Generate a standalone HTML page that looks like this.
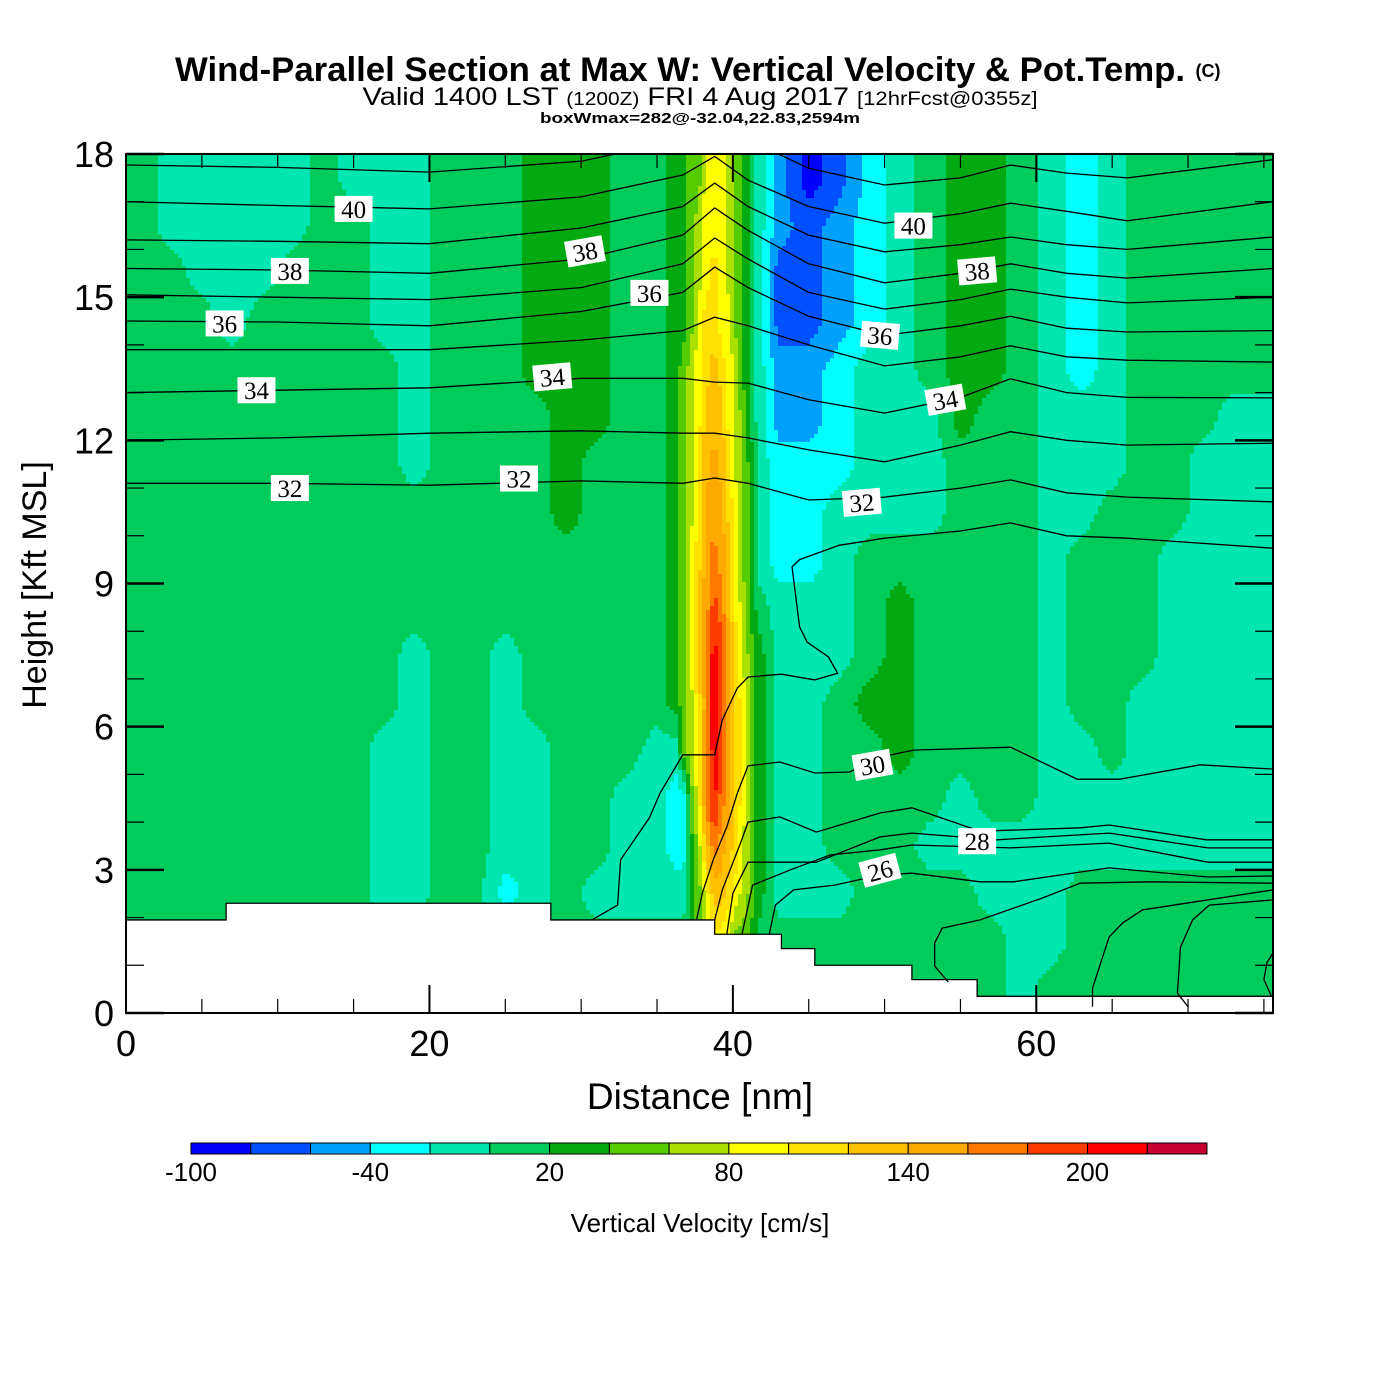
<!DOCTYPE html>
<html><head><meta charset="utf-8"><style>
html,body{margin:0;padding:0;background:#fff;}
svg{display:block;font-family:"Liberation Sans",sans-serif;}
</style></head><body>
<svg id="chart" width="1400" height="1400" viewBox="0 0 1400 1400" xmlns="http://www.w3.org/2000/svg">
<defs><clipPath id="plotclip"><rect x="126" y="154" width="1147" height="859"/></clipPath></defs>
<rect width="1400" height="1400" fill="#fff"/>
<text x="680" y="81" font-size="34" font-weight="bold" text-anchor="middle" textLength="1010" lengthAdjust="spacingAndGlyphs">Wind-Parallel Section at Max W: Vertical Velocity &amp; Pot.Temp.</text>
<text x="1208" y="77" font-size="18" font-weight="bold" text-anchor="middle">(C)</text>
<text x="700" y="105" font-size="25" text-anchor="middle" textLength="675" lengthAdjust="spacingAndGlyphs">Valid 1400 LST <tspan font-size="18">(1200Z)</tspan> FRI 4 Aug 2017 <tspan font-size="19">[12hrFcst@0355z]</tspan></text>
<text x="700" y="123" font-size="15" font-weight="bold" text-anchor="middle" textLength="320" lengthAdjust="spacingAndGlyphs">boxWmax=282@-32.04,22.83,2594m</text>
<g id="cells" clip-path="url(#plotclip)" shape-rendering="crispEdges"></g>
<g id="terrain"></g>
<g id="isen" clip-path="url(#plotclip)"></g>
<g id="labels"></g>
<rect x="126" y="154" width="1147" height="859" fill="none" stroke="#000" stroke-width="2"/>
<g id="axes"></g>
<text x="700" y="1109" font-size="37" text-anchor="middle">Distance [nm]</text>
<text transform="translate(46,585) rotate(-90)" font-size="34" text-anchor="middle">Height [Kft MSL]</text>
<g id="cbar"></g>
<text x="700" y="1232" font-size="26" text-anchor="middle">Vertical Velocity [cm/s]</text>
</svg>
<script>
const colCenters=[1,3,5,7,9,11,13,15,17,19,21,23,25,27,29,31,33,35,36.25,36.75,37.25,37.75,38.25,38.75,39.25,39.75,40.25,40.75,41.25,41.75,43,45,47,49,51,53,55,57,59,61,63,65,67,69,71,73,75];
const rowCenters=[17.5,16.5,15.5,14.5,13.5,12.5,11.5,10.5,9.5,8.5,7.5,6.5,5.5,4.5,3.5,2.5,1.5,0.5];
const w175=[10,-10,-10,-10,-10,-10,10,-10,-10,-10,10,10,10,30,30,30,10,10, 30,30,50,50,90,90,90,70,50,30,10,-10, -50,-90,-70,-30,-10,10,30,30,10,-10,-30,-10,10,10,10,10,10];
const w165=[10,-10,-10,-10,-10,-10,10,10,-10,-10,10,10,10,30,30,30,10,10, 30,30,50,70,90,90,90,70,50,30,10,-10, -50,-70,-50,-30,-10,10,30,30,10,-10,-30,-10,10,10,10,10,10];
const w155=[10,10,-10,-10,-10,10,10,10,-10,-10,10,10,10,30,30,30,10,10, 30,30,50,70,90,110,90,70,50,30,10,-10, -70,-70,-50,-30,-10,10,30,30,10,-10,-30,-10,10,10,10,10,10];
const w145=[10,10,10,-10,10,10,10,10,-10,-10,10,10,10,30,30,30,10,10, 30,30,50,90,110,110,90,90,50,30,10,-10, -70,-70,-50,-30,-10,10,30,30,10,-10,-30,-10,10,10,10,10,10];
const w135=[10,10,10,10,10,10,10,10,10,-10,10,10,10,30,30,30,10,10, 30,50,70,90,110,130,110,90,70,30,10,-10, -50,-50,-30,-10,-10,10,30,30,10,-10,-30,-10,10,10,10,10,10];
const w125=[10,10,10,10,10,10,10,10,10,-10,10,10,10,10,30,30,10,10, 30,50,70,90,130,130,130,90,70,50,10,-10, -50,-50,-30,-10,-10,-10,30,10,10,-10,-10,-10,10,10,10,-10,-10];
const w115=[10,10,10,10,10,10,10,10,10,-10,10,10,10,10,30,10,10,10, 30,50,70,110,130,150,130,110,70,50,30,-10, -30,-30,-30,-10,-10,-10,10,10,10,-10,-10,-10,10,10,-10,-10,-10];
const w105=[10,10,10,10,10,10,10,10,10,10,10,10,10,10,30,10,10,10, 30,50,70,110,150,150,150,110,90,50,30,-10, -30,-30,-10,-10,-10,-10,10,10,10,-10,-10,10,10,10,-10,-10,-10];
const w95=[10,10,10,10,10,10,10,10,10,10,10,10,10,10,10,10,10,10, 30,50,90,110,150,170,150,130,90,50,30,-10, -30,-30,-10,10,10,10,10,10,10,-10,10,10,10,-10,-10,-10,-10];
const w85=[10,10,10,10,10,10,10,10,10,10,10,10,10,10,10,10,10,10, 30,50,90,130,150,190,170,130,90,70,30,10, -10,-10,-10,10,30,10,10,10,10,-10,10,10,10,-10,-10,-10,-10];
const w75=[10,10,10,10,10,10,10,10,10,-10,10,10,-10,10,10,10,10,10, 30,50,90,130,170,210,190,150,110,70,50,30, -10,-10,-10,10,30,10,10,10,10,-10,10,10,10,-10,-10,-10,-10];
const w65=[10,10,10,10,10,10,10,10,10,-10,10,10,-10,10,10,10,10,10, 30,50,70,110,150,230,190,150,110,90,50,30, -10,-10,10,30,30,10,10,10,10,-10,10,10,-10,-10,-10,-10,-10];
const w55=[10,10,10,10,10,10,10,10,-10,-10,10,10,-10,-10,10,10,10,-10, -10,50,70,110,170,210,190,150,110,90,50,30, -10,-10,10,10,30,10,10,10,10,-10,-10,10,-10,-10,-10,-10,-10];
const w45=[10,10,10,10,10,10,10,10,-10,-10,10,10,-10,-10,10,10,-10,-10, -30,-30,50,90,170,210,170,150,110,90,50,30, -10,-10,10,10,10,10,-10,10,10,-10,-10,-10,-10,-10,-10,-10,-10];
const w35=[10,10,10,10,10,10,10,10,-10,-10,10,10,-10,-10,10,10,-10,-10, -30,-30,30,70,130,170,150,130,110,70,50,30, -10,-10,10,10,10,-10,-10,-10,-10,-10,-10,-10,-10,-10,-10,-10,-10];
const w25=[10,10,10,10,10,10,10,10,-10,-10,10,10,-30,-10,10,-10,-10,-10, -10,-10,30,50,90,130,130,110,90,70,50,30, -10,-10,-10,10,10,10,10,-10,-10,-10,10,10,10,10,10,10,10];
const w15=[10,10,10,10,10,10,10,10,10,10,10,10,10,10,10,10,10,10, 10,10,30,50,70,90,90,70,50,50,30,10, 10,10,10,10,10,10,10,10,-10,-10,10,10,10,10,10,10,10];
const w05=[10,10,10,10,10,10,10,10,10,10,10,10,10,10,10,10,10,10, 10,10,10,10,10,10,10,10,10,10,10,10, 10,10,10,10,10,10,10,10,-10,10,10,10,10,10,10,10,10];
const wRows=[w175,w165,w155,w145,w135,w125,w115,w105,w95,w85,w75,w65,w55,w45,w35,w25,w15,w05];
const binColors=['#0000ff','#0050ff','#00a0ff','#00ffff','#00e6b0','#00cc5c','#00aa10','#55cc00','#aae000','#ffff00','#ffe000','#ffc000','#ffa800','#ff7800','#ff3c00','#ff0000','#c80032'];
const cbarTicks=[-100,-40,20,80,140,200];
const terrainX=[0,6.6,28,38.8,43.2,45.4,51.8,56.1,75.6];
const terrainH=[1.95,2.3,1.95,1.65,1.35,1.0,0.7,0.35];
const stX=[0,10,20,30,36.7,38.8,41,45,50,55,58.3,62,66,75.6];
const th41=[17.77,17.72,17.62,17.85,18.3,18.6,18.3,17.7,17.35,17.5,17.77,17.6,17.5,17.88];
const th40=[17.0,16.92,16.85,17.1,17.56,17.95,17.45,16.9,16.55,16.75,16.97,16.8,16.6,17.0];
const th39=[16.2,16.17,16.12,16.45,16.9,17.39,16.9,16.3,15.95,16.1,16.26,16.1,16.0,16.26];
const th38=[15.6,15.57,15.5,15.8,16.3,16.87,16.4,15.7,15.3,15.5,15.7,15.5,15.4,15.6];
const th37=[15.05,15.0,14.95,15.2,15.7,16.24,15.8,15.1,14.75,14.95,15.17,15.0,14.88,15.0];
const th36=[14.5,14.48,14.4,14.7,15.1,15.63,15.2,14.6,14.2,14.4,14.6,14.35,14.27,14.3];
const th35=[13.9,13.9,13.9,14.1,14.3,14.58,14.4,14.0,13.56,13.75,13.98,13.75,13.68,13.64];
const th34=[13.0,13.05,13.1,13.3,13.3,13.22,13.2,12.85,12.57,12.9,13.29,13.0,12.9,12.89];
const th33=[12.0,12.05,12.15,12.2,12.15,12.15,12.05,11.8,11.55,11.9,12.18,12.0,11.9,11.94];
const th32=[11.1,11.1,11.06,11.15,11.1,11.21,11.1,10.75,10.81,11.0,11.17,10.9,10.81,10.71];
const th31x=[75.6,66,62,58.3,55,50,47,44.4,43.9,44.4,44.9,46.3,46.9,45.4,43.2,41.0,40.3,39.3,38.8,36.7,35.2,34.5,32.6,32.4,30.7];
const th31h=[9.74,9.95,10.0,10.27,10.1,9.95,9.8,9.5,9.35,8.09,7.77,7.46,7.12,6.98,7.1,7.04,6.81,6.14,5.41,5.41,4.61,4.09,3.21,2.26,1.95];
const th30x=[37.6,38.0,38.7,39.6,40.3,41.0,43.1,45.4,47.7,49.7,51.9,58.3,62.7,65.5,70.8,75.6];
const th30h=[1.95,2.52,3.21,3.9,4.61,5.18,5.26,5.03,5.05,5.36,5.51,5.57,4.9,4.9,5.2,5.11];
const th29x=[38.8,39.3,40.5,41.0,43.1,45.5,49.7,51.8,56.3,62.9,64.8,71.2,75.6];
const th29h=[1.95,2.58,3.56,4.0,4.11,3.79,4.19,4.3,3.81,3.88,3.94,3.63,3.63];
const th28x=[39.6,40.0,41.0,45.5,49.7,51.8,57.4,64.8,71.3,75.6];
const th28h=[1.65,2.51,3.16,3.16,3.69,3.77,3.63,3.77,3.46,3.46];
const th27x=[40.6,41.3,43.8,46.4,49.7,51.8,58.3,64.8,71.3,75.6];
const th27h=[1.65,2.68,3.0,3.31,3.42,3.52,3.46,3.56,3.16,3.16];
const th26x=[42.4,42.8,44.0,46.7,49.7,51.8,56.3,58.5,64.8,71.3,75.6];
const th26h=[1.65,2.26,2.58,2.68,2.89,2.93,2.75,2.75,3.04,2.85,2.87];
const th25x=[54.2,53.3,53.3,53.8,56.3,60.4,62.9,67.5,75.6];
const th25h=[0.65,0.98,1.47,1.78,1.95,2.41,2.72,2.75,2.72];
const th24x=[63.7,63.7,64.8,65.7,67.0,75.6];
const th24h=[0.13,0.52,1.59,1.89,2.16,2.58];
const th23x=[70.0,69.3,69.5,70.3,71.4,75.6];
const th23h=[0.13,0.42,1.38,1.95,2.26,2.37];
const th22x=[75.5,75.0,75.2,75.6];
const th22h=[0.35,0.7,1.05,1.26];
const labelText=['40','38','36','34','32','38','36','34','32','40','38','36','34','32','30','28','26'];
const labelX=[15.0,10.8,6.5,8.6,10.8,30.25,34.5,28.1,25.9,51.9,56.1,49.7,54.0,48.5,49.2,56.1,49.7];
const labelH=[16.85,15.55,14.45,13.05,11.0,15.96,15.09,13.33,11.2,16.5,15.55,14.2,12.85,10.7,5.2,3.6,2.99];
const labelRot=[0,0,0,0,0,-10,0,-5,0,0,-5,5,-10,-5,-10,0,-15];
const xTickLabels=[0,20,40,60];
const yTickLabels=[0,3,6,9,12,15,18];

const NS='http://www.w3.org/2000/svg';
const X0=126,X1=1273,Y0=1013,Y1=154,XMAX=75.6,YMAX=18;
function X(v){return X0+v*(X1-X0)/XMAX;}
function Y(h){return Y0-h*(Y0-Y1)/YMAX;}
function invX(px){return (px-X0)*XMAX/(X1-X0);}
function invY(py){return (Y0-py)*YMAX/(Y0-Y1);}
function mk(tag,attrs,parent){const e=document.createElementNS(NS,tag);for(const k in attrs)e.setAttribute(k,attrs[k]);parent.appendChild(e);return e;}
function binIndex(v){let b=Math.floor((v+100)/20);return Math.max(0,Math.min(binColors.length-1,b));}

function locate(arr,v,desc){
  const n=arr.length;
  if(!desc){
    if(v<=arr[0])return [0,0,0];
    if(v>=arr[n-1])return [n-1,n-1,0];
    for(let i=0;i<n-1;i++)if(v<=arr[i+1])return [i,i+1,(v-arr[i])/(arr[i+1]-arr[i])];
  }else{
    if(v>=arr[0])return [0,0,0];
    if(v<=arr[n-1])return [n-1,n-1,0];
    for(let i=0;i<n-1;i++)if(v>=arr[i+1])return [i,i+1,(arr[i]-v)/(arr[i]-arr[i+1])];
  }
  return [n-1,n-1,0];
}
function sample(x,h){
  const [c0,c1,fx]=locate(colCenters,x,false);
  const [r0,r1,fy]=locate(rowCenters,h,true);
  const a=wRows[r0][c0]*(1-fx)+wRows[r0][c1]*fx;
  const b=wRows[r1][c0]*(1-fx)+wRows[r1][c1]*fx;
  return a*(1-fy)+b*fy;
}
const cg=document.getElementById('cells');
const STEP=4;
function emit(x0,x1,py,b){
  const el=mk('rect',{x:x0,y:py,width:x1-x0,height:STEP,fill:binColors[b]},cg);
  
  
}
for(let py=Y1;py<Y0;py+=STEP){
  const h=invY(py+STEP/2);
  let runStart=X0,runBin=-1;
  for(let px=X0;px<X1;px+=STEP){
    const b=binIndex(sample(invX(px+STEP/2),h));
    if(b!==runBin){
      if(runBin>=0)emit(runStart,px,py,runBin);
      runStart=px;runBin=b;
    }
  }
  if(runBin>=0)emit(runStart,X1,py,runBin);
}

// terrain
const tg=document.getElementById('terrain');
let pts=[];
for(let i=0;i<terrainH.length;i++){pts.push(X(terrainX[i])+','+Y(terrainH[i]));pts.push(X(terrainX[i+1])+','+Y(terrainH[i]));}
const tpoly=mk('polygon',{points:X(0)+','+Y(0)+' '+pts.join(' ')+' '+X(XMAX)+','+Y(0),fill:'#fff',stroke:'none'},tg);


const tline=mk('polyline',{points:pts.join(' '),fill:'none',stroke:'#000','stroke-width':1.3},tg);



// isentropes
const ig=document.getElementById('isen');
function drawLine(xs,hs,name){
  const p=xs.map((x,i)=>X(x).toFixed(1)+','+Y(hs[i]).toFixed(1)).join(' ');
  const el=mk('polyline',{points:p,fill:'none',stroke:'#000','stroke-width':1.3},ig);
  
  
}
[[th41,'41'],[th40,'40'],[th39,'39'],[th38,'38'],[th37,'37'],[th36,'36'],[th35,'35'],[th34,'34'],[th33,'33'],[th32,'32']].forEach(a=>drawLine(stX,a[0],'isentrope-'+a[1]));
drawLine(th31x,th31h,'isentrope-31');
drawLine(th30x,th30h,'isentrope-30');
drawLine(th29x,th29h,'isentrope-29');
drawLine(th28x,th28h,'isentrope-28');
drawLine(th27x,th27h,'isentrope-27');
drawLine(th26x,th26h,'isentrope-26');
drawLine(th25x,th25h,'isentrope-25');
drawLine(th24x,th24h,'isentrope-24');
drawLine(th23x,th23h,'isentrope-23');
drawLine(th22x,th22h,'isentrope-22');

// labels
const lg=document.getElementById('labels');
labelText.forEach((t,i)=>{
  const cx=X(labelX[i]),cy=Y(labelH[i]);
  const g=mk('g',{transform:'translate('+cx+','+cy+') rotate('+labelRot[i]+')'},lg);
  
  
  mk('rect',{x:-19,y:-13,width:38,height:26,fill:'#fff'},g);
  const tx=mk('text',{x:0,y:9,'font-size':25,'text-anchor':'middle','font-family':'"Liberation Serif",serif'},g);
  tx.textContent=t;
});

// axes ticks
const ag=document.getElementById('axes');
function tick(x1,y1,x2,y2,w){const e=mk('line',{x1:x1,y1:y1,x2:x2,y2:y2,stroke:'#000','stroke-width':w},ag);}
for(let v=0;v<=75;v+=5){
  const major=(v%20===0);const L=major?28:14;const w=major?2:1.2;
  tick(X(v),Y0,X(v),Y0-L,w);tick(X(v),Y1,X(v),Y1+L,w);
}
for(let h=0;h<=18;h++){
  const major=(h%3===0);const L=major?38:18;const w=major?2.5:1.2;
  tick(X0,Y(h),X0+L,Y(h),w);tick(X1,Y(h),X1-L,Y(h),w);
}
xTickLabels.forEach(v=>{
  const e=mk('text',{x:X(v),y:1056,'font-size':36,'text-anchor':'middle'},ag);
  
  
  e.textContent=v;
});
yTickLabels.forEach(v=>{
  const e=mk('text',{x:114,y:Y(v)+13,'font-size':36,'text-anchor':'end'},ag);
  
  
  e.textContent=v;
});

// colorbar
const bg=document.getElementById('cbar');
const CB0=191,CB1=1207,CBV0=-100,CBV1=240;
function CX(v){return CB0+(v-CBV0)*(CB1-CB0)/(CBV1-CBV0);}
binColors.forEach((c,i)=>{
  const v0=CBV0+i*20;
  const e=mk('rect',{x:CX(v0),y:1143,width:CX(v0+20)-CX(v0),height:11,fill:c,stroke:'#000','stroke-width':1},bg);
  
  
});
cbarTicks.forEach(v=>{
  const e=mk('text',{x:CX(v),y:1181,'font-size':26,'text-anchor':'middle'},bg);
  
  
  e.textContent=v;
});
</script>
</body></html>
